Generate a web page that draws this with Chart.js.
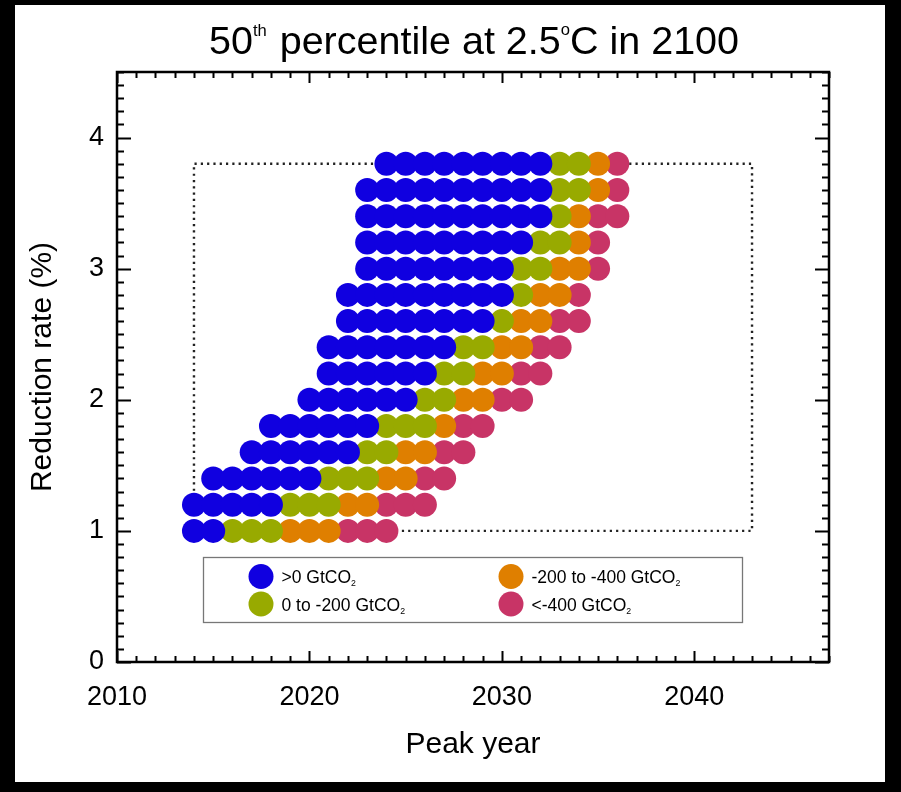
<!DOCTYPE html>
<html>
<head>
<meta charset="utf-8">
<script src="https://cdn.jsdelivr.net/npm/chart.js@4"></script>
<style>
  html, body { margin: 0; background: #000; }
  #frame { position: absolute; left: 15px; top: 5px; width: 870px; height: 777px; background: #fff; }
</style>
</head>
<body>
<div id="frame"><canvas id="chart" width="870" height="777"></canvas></div>
<script>
// reduction rate of each row (%)
const rates = [1.0, 1.2, 1.4, 1.6, 1.8, 2.0, 2.2, 2.4, 2.6, 2.8, 3.0, 3.2, 3.4, 3.6, 3.8];
// first peak year of each row, then how many successive years fall in each budget class
const firstPeak = [2014, 2014, 2015, 2017, 2018, 2020, 2021, 2021, 2022, 2022, 2023, 2023, 2023, 2023, 2024];
const nAbove0   = [2, 5, 6, 6, 6, 6, 6, 7, 8, 9, 8, 9, 10, 10, 9];
const n0to200   = [3, 3, 3, 2, 3, 2, 2, 2, 1, 1, 2, 2, 1, 2, 2];
const n200to400 = [3, 2, 2, 2, 1, 2, 2, 2, 2, 2, 2, 1, 1, 1, 1];
const nBelow400 = [3, 3, 2, 2, 2, 2, 2, 2, 2, 1, 1, 1, 2, 1, 1];

const classLabels = [">0 GtCO₂", "0 to -200 GtCO₂", "-200 to -400 GtCO₂", "<-400 GtCO₂"];
const classColors = ["#1000e0", "#98aa00", "#df7f00", "#c83466"];

// dotted box of the explored range
const boxYears = [2014, 2043, 2043, 2014, 2014];
const boxRates = [1.0, 1.0, 3.8, 3.8, 1.0];

const xTicks = [2010, 2020, 2030, 2040];
const yTicks = [0, 1, 2, 3, 4];
const xRange = [2010, 2047];
const yRange = [0, 4.5];

const FONT = '"Liberation Sans", Helvetica, Arial, sans-serif';

// expand each row into one point per peak year
function buildPoints() {
  const counts = [nAbove0, n0to200, n200to400, nBelow400];
  const sets = counts.map(() => []);
  rates.forEach((r, i) => {
    let year = firstPeak[i];
    counts.forEach((c, k) => {
      for (let n = 0; n < c[i]; n++) sets[k].push({ x: year++, y: r });
    });
  });
  return sets;
}

const pointSets = buildPoints();

const datasets = pointSets.map((pts, k) => ({
  label: classLabels[k],
  data: pts,
  backgroundColor: classColors[k],
  borderWidth: 0,
  pointRadius: 12,
  pointHoverRadius: 12
}));

datasets.push({
  type: "line",
  label: "box",
  data: boxYears.map((yr, i) => ({ x: yr, y: boxRates[i] })),
  borderColor: "#222",
  borderWidth: 2.4,
  borderDash: [2.2, 4.1],
  pointRadius: 0,
  fill: false,
  tension: 0
});

// axis box with inward ticks on all four sides
const axisFrame = {
  id: "axisFrame",
  afterDatasetsDraw(chart) {
    const { ctx, chartArea: a, scales: { x, y } } = chart;
    ctx.save();
    ctx.strokeStyle = "#000";
    ctx.lineWidth = 2;
    ctx.beginPath();
    for (let yr = xRange[0]; yr <= xRange[1]; yr++) {
      const px = Math.round(x.getPixelForValue(yr)) + 0.5;
      const len = yr % 10 === 0 ? 11 : 6;
      ctx.moveTo(px, a.bottom); ctx.lineTo(px, a.bottom - len);
      ctx.moveTo(px, a.top); ctx.lineTo(px, a.top + len);
    }
    for (let k = 0; k <= 45; k++) {
      const py = Math.round(y.getPixelForValue(k / 10)) + 0.5;
      const len = k % 10 === 0 ? 14 : 7;
      ctx.moveTo(a.left, py); ctx.lineTo(a.left + len, py);
      ctx.moveTo(a.right, py); ctx.lineTo(a.right - len, py);
    }
    ctx.stroke();
    ctx.lineWidth = 2.5;
    ctx.strokeRect(a.left, a.top, a.right - a.left, a.bottom - a.top);
    ctx.restore();
  }
};

// text with a raised (sup) or lowered (sub) small run
function drawRuns(ctx, runs, x, y, size) {
  runs.forEach(r => {
    const s = r.small ? size * r.small : size;
    ctx.font = s + "px " + FONT;
    ctx.fillText(r.t, x, y + (r.dy || 0));
    x += ctx.measureText(r.t).width + (r.gap || 0);
  });
  return x;
}

function runsWidth(ctx, runs, size) {
  let w = 0;
  runs.forEach(r => {
    const s = r.small ? size * r.small : size;
    ctx.font = s + "px " + FONT;
    w += ctx.measureText(r.t).width + (r.gap || 0);
  });
  return w;
}

const titleAndLegend = {
  id: "titleAndLegend",
  afterDraw(chart) {
    const ctx = chart.ctx;
    ctx.save();
    ctx.fillStyle = "#000";
    ctx.textBaseline = "alphabetic";
    ctx.textAlign = "left";

    // title with superscripts
    const tSize = 39.5;
    const title = [
      { t: "50" },
      { t: "th", small: 0.42, dy: -18, gap: 2 },
      { t: " percentile at 2.5" },
      { t: "o", small: 0.42, dy: -19 },
      { t: "C in 2100" }
    ];
    const tw = runsWidth(ctx, title, tSize);
    drawRuns(ctx, title, 459 - tw / 2, 49, tSize);

    // legend box
    ctx.strokeStyle = "#777";
    ctx.lineWidth = 1.3;
    ctx.strokeRect(188.5, 552.5, 539, 65);
    const cols = [246, 496], rows = [571.5, 599];
    classLabels.forEach((lab, k) => {
      const cx = cols[Math.floor(k / 2)], cy = rows[k % 2];
      ctx.fillStyle = classColors[k];
      ctx.beginPath();
      ctx.arc(cx, cy, 12.5, 0, Math.PI * 2);
      ctx.fill();
      ctx.fillStyle = "#000";
      const main = lab.replace("₂", "");
      drawRuns(ctx, [{ t: main }, { t: "2", small: 0.5, dy: 3 }], cx + 20.5, cy + 6.5, 17.5);
    });
    ctx.restore();
  }
};

new Chart(document.getElementById("chart"), {
  type: "scatter",
  data: { datasets },
  options: {
    responsive: false,
    animation: false,
    layout: { padding: { top: 67, right: 56, bottom: 0, left: 0 } },
    plugins: {
      legend: { display: false },
      title: { display: false },
      tooltip: { enabled: false }
    },
    scales: {
      x: {
        type: "linear",
        min: xRange[0],
        max: xRange[1],
        afterBuildTicks: s => { s.ticks = xTicks.map(v => ({ value: v })); },
        afterFit: s => { s.height = 120; },
        grid: { display: false, drawTicks: false },
        border: { display: false },
        ticks: { color: "#000", padding: 19, maxRotation: 0, callback: v => String(v), font: { family: FONT, size: 27 } },
        title: { display: true, text: "Peak year", color: "#000", padding: { top: 0, bottom: 19 }, font: { family: FONT, size: 30 } }
      },
      y: {
        type: "linear",
        min: yRange[0],
        max: yRange[1],
        afterBuildTicks: s => { s.ticks = yTicks.map(v => ({ value: v })); },
        afterFit: s => { s.width = 102; },
        grid: { display: false, drawTicks: false },
        border: { display: false },
        ticks: { color: "#000", padding: 13, callback: v => String(v), font: { family: FONT, size: 27 } },
        title: { display: true, text: "Reduction rate (%)", color: "#000", padding: { top: 10, bottom: 0 }, font: { family: FONT, size: 30 } }
      }
    }
  },
  plugins: [axisFrame, titleAndLegend]
});
</script>
</body>
</html>
